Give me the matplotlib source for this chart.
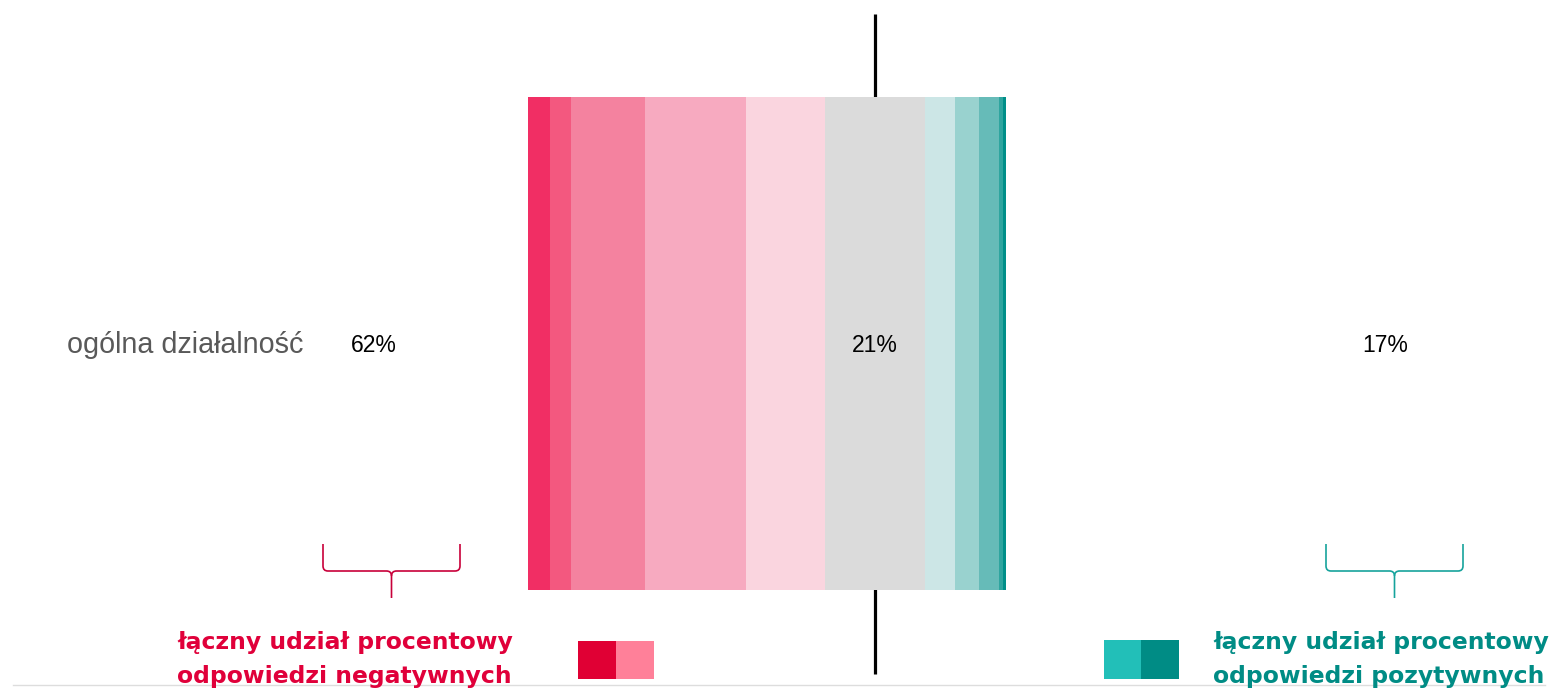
import numpy as np
import matplotlib
matplotlib.use('Agg')
import matplotlib.pyplot as plt
from matplotlib.path import Path
from matplotlib.patches import PathPatch

# data
category = 'ogólna działalność'
neg_values = [4.6, 4.4, 15.3, 21.3, 16.4]      # strongest -> weakest
neutral_value = 21.0
pos_values = [6.3, 5.0, 4.2, 0.7, 0.8]         # weakest -> strongest
neg_label = '62%'
neutral_label = '21%'
pos_label = '17%'
legend_neg = ['łączny udział procentowy', 'odpowiedzi negatywnych']
legend_pos = ['łączny udział procentowy', 'odpowiedzi pozytywnych']

neg_colors = ['#F12E64', '#F3587F', '#F4829F', '#F7AAC0', '#FAD5DF']
neutral_color = '#DBDBDB'
pos_colors = ['#CCE6E6', '#99D2CF', '#66BBB8', '#2EA59F', '#008F89']
red = '#E0003A'
teal = '#008C85'

W, H = 1555, 690
fig = plt.figure(figsize=(W / 100, H / 100), dpi=100)

# main axes in percent units, zero at the centre line
ax = fig.add_axes([0, 0, 1, 1])
px = 4.78        # pixels per percent
x0 = 875         # pixel of zero
ax.set_xlim((0 - x0) / px, (W - x0) / px)
ax.set_ylim(H, 0)
ax.axis('off')

def to_pct(p):
    return (p - x0) / px

yc, bh = 343.5, 493

# centre line behind the bar
ax.plot([0, 0], [14, 674], color='black', lw=2.3, zorder=1, solid_capstyle='butt')

left = -sum(neg_values) - neutral_value / 2
for v, c in zip(neg_values, neg_colors):
    ax.barh(yc, v, left=left, height=bh, color=c, zorder=2)
    left += v
ax.barh(yc, neutral_value, left=left, height=bh, color=neutral_color, zorder=2)
left += neutral_value
for v, c in zip(pos_values, pos_colors):
    ax.barh(yc, v, left=left, height=bh, color=c, zorder=2)
    left += v

lab_font = ['Liberation Sans', 'DejaVu Sans']
ax.text(to_pct(67), 345, category, ha='left', va='center', fontsize=20.7,
        color='#595959', family=lab_font)
ax.text(to_pct(374), 345, neg_label, ha='center', va='center', fontsize=16.5,
        color='black', family=lab_font)
ax.text(0, 345, neutral_label, ha='center', va='center', fontsize=16.5,
        color='black', family=lab_font, zorder=3)
ax.text(to_pct(1385), 345, pos_label, ha='center', va='center', fontsize=16.5,
        color='black', family=lab_font)

# overlay in pixel units for brackets, legend and rule
ov = fig.add_axes([0, 0, 1, 1], facecolor='none')
ov.set_xlim(0, W)
ov.set_ylim(H, 0)
ov.axis('off')

def bracket(xl, xr, color):
    xm = (xl + xr) / 2
    top, mid, tip = 544, 571, 598
    r = 5
    verts = [(xl, top), (xl, mid - r), (xl, mid), (xl + r, mid),
             (xm - r, mid), (xm, mid), (xm, mid + r), (xm, tip)]
    codes = [Path.MOVETO, Path.LINETO, Path.CURVE3, Path.CURVE3,
             Path.LINETO, Path.CURVE3, Path.CURVE3, Path.LINETO]
    ov.add_patch(PathPatch(Path(verts, codes), fill=False, ec=color, lw=1.2))
    verts = [(xr, top), (xr, mid - r), (xr, mid), (xr - r, mid),
             (xm + r, mid), (xm, mid), (xm, mid + r)]
    codes = [Path.MOVETO, Path.LINETO, Path.CURVE3, Path.CURVE3,
             Path.LINETO, Path.CURVE3, Path.CURVE3]
    ov.add_patch(PathPatch(Path(verts, codes), fill=False, ec=color, lw=1.2))

bracket(323, 460, '#C8003A')
bracket(1326, 1463, '#16A39C')

# bottom rule
ov.plot([13, 1545], [685, 685], color='#DDDDDD', lw=1, zorder=0)

leg_font = ['DejaVu Sans']
for i, yy in enumerate([643, 676]):
    ov.text(177, yy, legend_neg[i], ha='left', va='center', fontsize=16.9,
            fontweight='bold', color=red, family=leg_font)
    ov.text(1213, yy, legend_pos[i], ha='left', va='center', fontsize=16.9,
            fontweight='bold', color=teal, family=leg_font)

ov.add_patch(plt.Rectangle((578, 641), 38, 38, color='#E00034', lw=0))
ov.add_patch(plt.Rectangle((616, 641), 38, 38, color='#FF8099', lw=0))
ov.add_patch(plt.Rectangle((1104, 640), 37, 39, color='#22BFB8', lw=0))
ov.add_patch(plt.Rectangle((1141, 640), 38, 39, color='#008C85', lw=0))

fig.savefig('out.png', dpi=100)
